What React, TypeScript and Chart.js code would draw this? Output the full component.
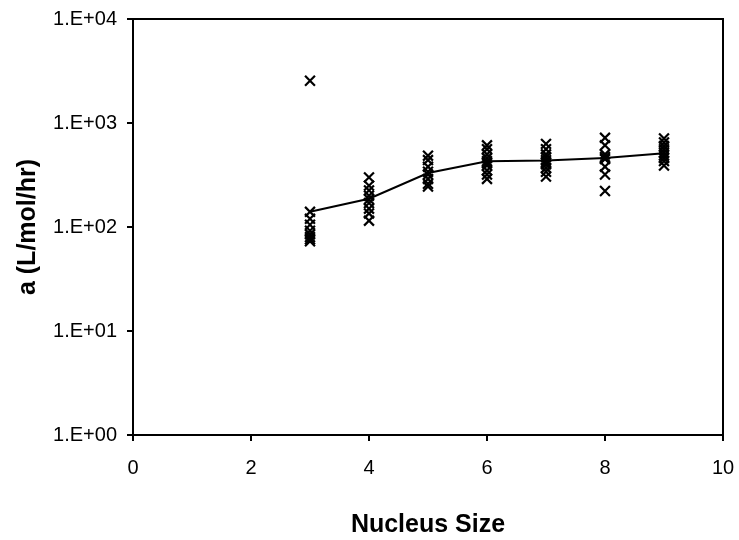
import React, { useEffect, useRef } from "react";
import { Chart, registerables } from "chart.js";

Chart.register(...registerables);

// Nucleus sizes with measurements
const nucleusSizes = [3, 4, 5, 6, 7, 8, 9];
// Mean value line
const meanValues = [140, 187, 330, 428, 436, 462, 512];
// Individual measurements per nucleus size
const size3 = [2550, 140, 120, 105, 92, 85, 80, 76, 73];
const size4 = [300, 250, 225, 200, 185, 170, 150, 135, 115];
const size5 = [485, 440, 380, 340, 320, 290, 260, 245];
const size6 = [610, 560, 500, 460, 430, 410, 390, 350, 320, 290];
const size7 = [630, 560, 500, 470, 440, 420, 400, 370, 340, 305];
const size8 = [720, 610, 500, 470, 450, 380, 320, 222];
const size9 = [710, 650, 600, 560, 520, 490, 460, 430, 390];
const measurements = [size3, size4, size5, size6, size7, size8, size9];

const xTicks = [0, 2, 4, 6, 8, 10];
const yTicks = [1, 10, 100, 1000, 10000];
const xTitle = "Nucleus Size";
const yTitle = "a (L/mol/hr)";

const boxPlugin = {
  id: "plotBox",
  afterDraw(chart: any) {
    const { ctx, chartArea } = chart;
    ctx.save();
    ctx.strokeStyle = "#000";
    ctx.lineWidth = 2;
    ctx.strokeRect(
      chartArea.left,
      chartArea.top,
      chartArea.right - chartArea.left,
      chartArea.bottom - chartArea.top
    );
    ctx.restore();
  },
};

export default function App() {
  const ref = useRef<HTMLCanvasElement>(null);

  useEffect(() => {
    if (!ref.current) return;
    const scatterPoints: { x: number; y: number }[] = [];
    nucleusSizes.forEach((s, i) => {
      measurements[i].forEach((v) => scatterPoints.push({ x: s, y: v }));
    });
    const linePoints = nucleusSizes.map((s, i) => ({ x: s, y: meanValues[i] }));

    const chart = new Chart(ref.current, {
      type: "scatter",
      data: {
        datasets: [
          {
            data: linePoints,
            showLine: true,
            borderColor: "#000",
            borderWidth: 2,
            pointRadius: 0,
            tension: 0,
          },
          {
            data: scatterPoints,
            pointStyle: "crossRot",
            pointRadius: 7,
            pointBorderWidth: 2.2,
            borderColor: "#000",
            backgroundColor: "#000",
          },
        ],
      },
      options: {
        animation: false,
        responsive: false,
        layout: { padding: { top: 19, right: 16, left: 0, bottom: 0 } },
        plugins: {
          legend: { display: false },
          tooltip: { enabled: false },
        },
        scales: {
          x: {
            type: "linear",
            min: 0,
            max: 10,
            afterBuildTicks: (scale: any) => {
              scale.ticks = xTicks.map((v) => ({ value: v }));
            },
            afterFit: (scale: any) => {
              scale.height = 105;
              scale.paddingLeft = 0;
              scale.paddingRight = 0;
            },
            ticks: {
              color: "#000",
              font: { family: "Liberation Sans, Arial, sans-serif", size: 20 },
              padding: 15,
              maxRotation: 0,
            },
            grid: {
              drawOnChartArea: false,
              drawTicks: true,
              tickLength: 6,
              color: "#000",
              lineWidth: 2,
            },
            border: { display: true, color: "#000", width: 2 },
            title: {
              display: true,
              text: xTitle,
              color: "#000",
              font: { family: "Liberation Sans, Arial, sans-serif", size: 25, weight: "bold" },
              padding: { top: 0, bottom: 0 },
            },
          },
          y: {
            type: "logarithmic",
            min: 1,
            max: 10000,
            afterBuildTicks: (scale: any) => {
              scale.ticks = yTicks.map((v) => ({ value: v }));
            },
            afterFit: (scale: any) => {
              scale.width = 133;
              scale.paddingTop = 0;
              scale.paddingBottom = 0;
            },
            ticks: {
              color: "#000",
              font: { family: "Liberation Sans, Arial, sans-serif", size: 20 },
              padding: 10,
              callback: (v: any) => {
                const e = Math.round(Math.log10(Number(v)));
                return "1.E+" + (e < 10 ? "0" + e : String(e));
              },
            },
            grid: {
              drawOnChartArea: false,
              drawTicks: true,
              tickLength: 6,
              color: "#000",
              lineWidth: 2,
            },
            border: { display: true, color: "#000", width: 2 },
            title: {
              display: true,
              text: yTitle,
              color: "#000",
              font: { family: "Liberation Sans, Arial, sans-serif", size: 25, weight: "bold" },
              padding: { top: 13, bottom: 0 },
            },
          },
        },
      },
      plugins: [boxPlugin],
    } as any);
    return () => chart.destroy();
  }, []);

  return (
    <div style={{ position: "fixed", left: 0, top: 0, width: 739, height: 540, background: "#fff" }}>
      <canvas ref={ref} width={739} height={540} />
    </div>
  );
}
